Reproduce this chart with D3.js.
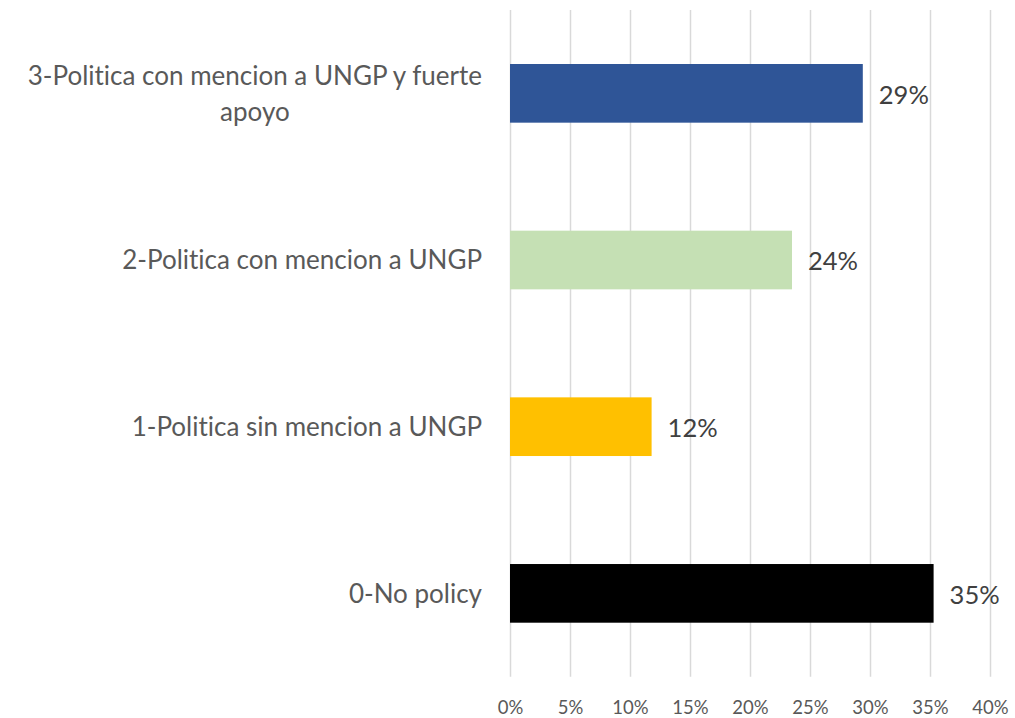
<!DOCTYPE html>
<html>
<head>
<meta charset="utf-8">
<script src="https://cdn.jsdelivr.net/npm/d3@7"></script>
<style>
  html, body { margin: 0; padding: 0; background: #ffffff; }
  svg { display: block; }
  text { font-variant-ligatures: none; }
</style>
</head>
<body>
<svg id="chart" width="1015" height="718"></svg>
<script>
// Categories, top to bottom
const categories = [
  "3-Politica con mencion a UNGP y fuerte apoyo",
  "2-Politica con mencion a UNGP",
  "1-Politica sin mencion a UNGP",
  "0-No policy"
];
// Share of companies in each category
const shares = [0.294, 0.235, 0.118, 0.353];
const barColors = ["#2F5597", "#C5E0B4", "#FFC000", "#000000"];
const tickValues = [0, 0.05, 0.10, 0.15, 0.20, 0.25, 0.30, 0.35, 0.40];

const fontFamily = "Lato, 'Open Sans', sans-serif";
const svg = d3.select("#chart");

const plot = { left: 510, right: 990, top: 10, bottom: 676.7 };

const x = d3.scaleLinear().domain([0, 0.4]).range([plot.left, plot.right]);
const y = d3.scaleBand()
  .domain(categories)
  .range([plot.top, plot.bottom])
  .paddingInner(0.648)
  .paddingOuter(0.324);

const pct = d3.format(".0%");

// Vertical gridlines and bottom tick labels
const xAxis = d3.axisBottom(x)
  .tickValues(tickValues)
  .tickFormat(pct)
  .tickSizeInner(-(plot.bottom - plot.top))
  .tickSizeOuter(0)
  .tickPadding(0);

const gx = svg.append("g")
  .attr("transform", `translate(0,${plot.bottom})`)
  .call(xAxis);
gx.select(".domain").remove();
gx.selectAll(".tick line")
  .attr("stroke", "#d9d9d9")
  .attr("stroke-width", 1.5);
gx.selectAll(".tick text")
  .attr("y", 37)
  .attr("dy", 0)
  .attr("fill", "#595959")
  .style("font-family", fontFamily)
  .style("font-size", "18.5px");

// Bars
svg.append("g")
  .selectAll("rect")
  .data(categories)
  .join("rect")
  .attr("x", x(0))
  .attr("y", d => y(d))
  .attr("width", (d, i) => x(shares[i]) - x(0))
  .attr("height", y.bandwidth())
  .attr("fill", (d, i) => barColors[i]);

// Value labels
svg.append("g")
  .selectAll("text")
  .data(categories)
  .join("text")
  .attr("x", (d, i) => x(shares[i]) + 16)
  .attr("y", d => y(d) + y.bandwidth() / 2 + 1)
  .attr("dy", "0.36em")
  .attr("fill", "#404040")
  .style("font-family", fontFamily)
  .style("font-size", "25.5px")
  .text((d, i) => pct(shares[i]));

// Category labels, wrapped to fit the space left of the bars
const labelRight = 482;
const maxLabelWidth = 475;
const lineHeight = 36;

const labels = svg.append("g")
  .selectAll("text")
  .data(categories)
  .join("text")
  .attr("fill", "#595959")
  .style("font-family", fontFamily)
  .style("font-size", "26px");

labels.each(function (d) {
  const t = d3.select(this);
  const words = d.split(" ");
  const lines = [];
  let current = [];
  const probe = t.append("tspan");
  words.forEach(w => {
    const trial = current.concat([w]).join(" ");
    probe.text(trial);
    if (probe.node().getComputedTextLength() > maxLabelWidth && current.length) {
      lines.push(current.join(" "));
      current = [w];
    } else {
      current.push(w);
    }
  });
  lines.push(current.join(" "));
  probe.remove();

  // Measure widest line so wrapped lines are centred within the block
  const widths = lines.map(l => {
    const p = t.append("tspan").text(l);
    const w = p.node().getComputedTextLength();
    p.remove();
    return w;
  });
  const blockW = d3.max(widths);
  const cy = y(d) + y.bandwidth() / 2;
  const y0 = cy - (lines.length - 1) * lineHeight / 2;

  t.attr("text-anchor", "middle");
  lines.forEach((l, k) => {
    t.append("tspan")
      .attr("x", labelRight - blockW / 2)
      .attr("y", y0 + k * lineHeight)
      .attr("dy", "0.36em")
      .text(l);
  });
});
</script>
</body>
</html>
